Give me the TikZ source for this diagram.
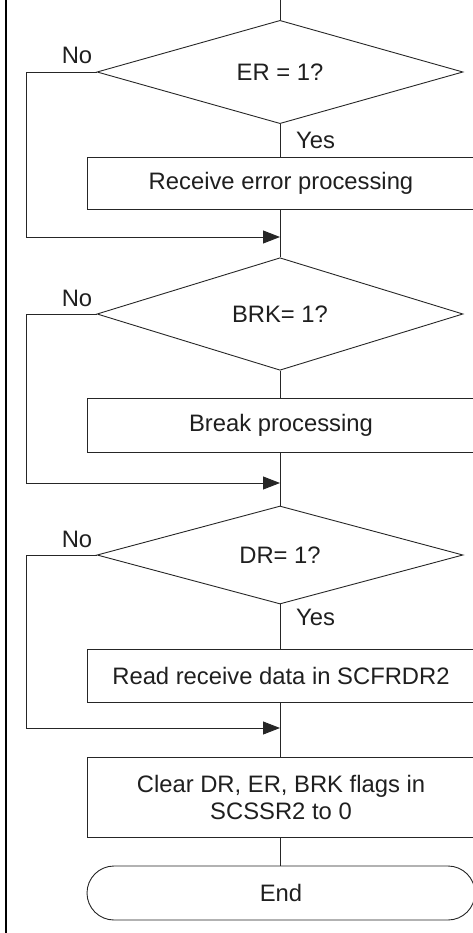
\documentclass[tikz,border=0pt]{standalone}
\usepackage{fontspec}
\setmainfont{Liberation Sans}
\usetikzlibrary{arrows.meta,shapes.geometric}
\newcommand\flowfont{\fontsize{23.8}{27}\selectfont}
\begin{document}
\begin{tikzpicture}[x=1pt,y=-1pt,
  ln/.style={line width=0.9pt, draw=black!85},
  dec/.style={diamond, draw=black!85, line width=0.9pt, minimum width=366pt, minimum height=98pt, inner sep=0pt, font=\flowfont, text=black!88},
  procbox/.style={rectangle, draw=black!85, line width=0.9pt, minimum width=388pt, inner sep=0pt, font=\flowfont, text=black!88, align=center},
  termbox/.style={rectangle, rounded corners=27pt, draw=black!85, line width=0.9pt, minimum width=388pt, minimum height=54pt, inner sep=0pt, font=\flowfont, text=black!88},
  lbl/.style={font=\flowfont, text=black!88, inner sep=0pt},
  arr/.style={ln, -{Triangle[length=17pt,width=13pt]}}
]
\useasboundingbox (0,0) rectangle (473,933);
\clip (0,0) rectangle (473,933);

% left border
\coordinate (bt) at (6,0);
\coordinate (bb) at (6,933);
\draw[line width=2.4pt, black] (bt) -- (bb);

% nodes
\coordinate (start) at (280,0);
\node[dec] (er) at (280,72) {ER = 1?};
\node[procbox, minimum height=52pt] (p1) at (281,183) {Receive error processing};
\coordinate (m1) at (280,237);
\node[dec] (brk) at (280,314) {BRK= 1?};
\node[procbox, minimum height=54pt] (p2) at (281,425) {Break processing};
\coordinate (m2) at (280,483);
\node[dec] (dr) at (280,555) {DR= 1?};
\node[procbox, minimum height=53pt] (p3) at (281,675.5) {Read receive data in SCFRDR2};
\coordinate (m3) at (280,728);
\node[procbox, minimum height=80pt] (p4) at (281,797) {Clear DR, ER, BRK flags in\\SCSSR2 to 0};
\node[termbox] (end) at (281,893) {End};

% bend points of the No paths
\coordinate (n1a) at (26,72);
\coordinate (n1b) at (26,237);
\coordinate (n2a) at (26,314);
\coordinate (n2b) at (26,483);
\coordinate (n3a) at (26,555);
\coordinate (n3b) at (26,728);

% main spine
\draw[ln] (start) -- (er.north);
\draw[ln] (er.south) -- (er.south |- p1.north);
\draw[ln] (er.south |- p1.south) -- (brk.north);
\draw[ln] (brk.south) -- (brk.south |- p2.north);
\draw[ln] (brk.south |- p2.south) -- (dr.north);
\draw[ln] (dr.south) -- (dr.south |- p3.north);
\draw[ln] (dr.south |- p3.south) -- (dr.south |- p4.north);
\draw[ln] (dr.south |- p4.south) -- (dr.south |- end.north);

% No branches
\draw[arr] (er.west) -- (n1a) -- (n1b) -- (m1);
\draw[arr] (brk.west) -- (n2a) -- (n2b) -- (m2);
\draw[arr] (dr.west) -- (n3a) -- (n3b) -- (m3);

% labels
\node[lbl, anchor=base] (no1) at (77,64) {No};
\node[lbl, anchor=base] (no2) at (77,306) {No};
\node[lbl, anchor=base] (no3) at (77,547) {No};
\node[lbl, anchor=base west] (yes1) at (296,149) {Yes};
\node[lbl, anchor=base west] (yes3) at (296,625) {Yes};
\end{tikzpicture}
\end{document}
